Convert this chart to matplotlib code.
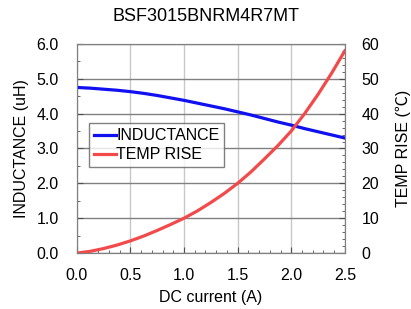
import matplotlib
matplotlib.use("Agg")
import matplotlib.pyplot as plt
from matplotlib.ticker import MultipleLocator, FormatStrFormatter

plt.rcParams['font.family'] = ['Liberation Sans', 'DejaVu Sans']

current = [0.0, 0.125, 0.25, 0.375, 0.5, 0.625, 0.75, 0.875, 1.0, 1.125, 1.25,
           1.375, 1.5, 1.625, 1.75, 1.875, 2.0, 2.125, 2.25, 2.375, 2.5]
inductance = [4.75, 4.73, 4.70, 4.67, 4.63, 4.58, 4.52, 4.45, 4.38, 4.30, 4.22,
              4.14, 4.05, 3.96, 3.86, 3.76, 3.67, 3.57, 3.48, 3.39, 3.30]
temp_rise = [0.0, 0.5, 1.3, 2.3, 3.5, 4.9, 6.5, 8.2, 10.0, 12.1, 14.5,
             17.1, 20.0, 23.3, 27.0, 30.8, 35.0, 40.0, 45.5, 51.5, 58.0]

fig = plt.figure(figsize=(4.11, 3.09), dpi=100)
ax = fig.add_axes([0.187, 0.181, 0.652, 0.677])
ax2 = ax.twinx()

ax.set_xlim(0, 2.5)
ax.set_ylim(0, 6.0)
ax2.set_ylim(0, 60)

ax.xaxis.set_major_locator(MultipleLocator(0.5))
ax.xaxis.set_minor_locator(MultipleLocator(0.1))
ax.yaxis.set_major_locator(MultipleLocator(1.0))
ax.yaxis.set_minor_locator(MultipleLocator(0.5))
ax2.yaxis.set_major_locator(MultipleLocator(10))
ax2.yaxis.set_minor_locator(MultipleLocator(2))

ax.grid(True, axis='x', which='major', color='#c8c8c8', lw=1.0)
ax.grid(True, axis='y', which='major', color='#808080', lw=1.0)
ax.set_axisbelow(True)

for a in (ax, ax2):
    for s in a.spines.values():
        s.set_color('#808080')
    a.tick_params(which='both', direction='in', color='#505050', labelsize=11.5)
    a.tick_params(which='major', length=4)
    a.tick_params(which='minor', length=2.5)
ax.tick_params(axis='x', which='major', pad=11)
ax.tick_params(axis='y', which='major', pad=13)
ax2.tick_params(axis='y', which='major', pad=12)

ax.xaxis.set_major_formatter(FormatStrFormatter('%.1f'))
ax.yaxis.set_major_formatter(FormatStrFormatter('%.1f'))

l1, = ax2.plot(current, [v * 10 for v in inductance], color='#1010f0', lw=2.3, label='INDUCTANCE')
l2, = ax2.plot(current, temp_rise, color='#f24a4a', lw=2.3, label='TEMP RISE')

ax.set_xlabel('DC current (A)', fontsize=11.5, labelpad=5)
ax.set_ylabel('INDUCTANCE (uH)', fontsize=11.5, labelpad=5)
ax2.set_ylabel('TEMP RISE (\u2103)', fontsize=11.5, labelpad=12,
               family=['Liberation Sans', 'Noto Sans CJK SC', 'DejaVu Sans'])
fig.suptitle('BSF3015BNRM4R7MT', fontsize=13, y=0.975)

leg = ax2.legend(handles=[l1, l2], loc='upper left', bbox_to_anchor=(0.045, 0.62),
                 fontsize=11.5, frameon=True, fancybox=False, edgecolor='#606060',
                 handlelength=1.4, handletextpad=0.0, borderpad=0.3, labelspacing=0.25,
                 borderaxespad=0.0)
leg.get_frame().set_linewidth(1.0)

fig.savefig('out.png', dpi=100)
